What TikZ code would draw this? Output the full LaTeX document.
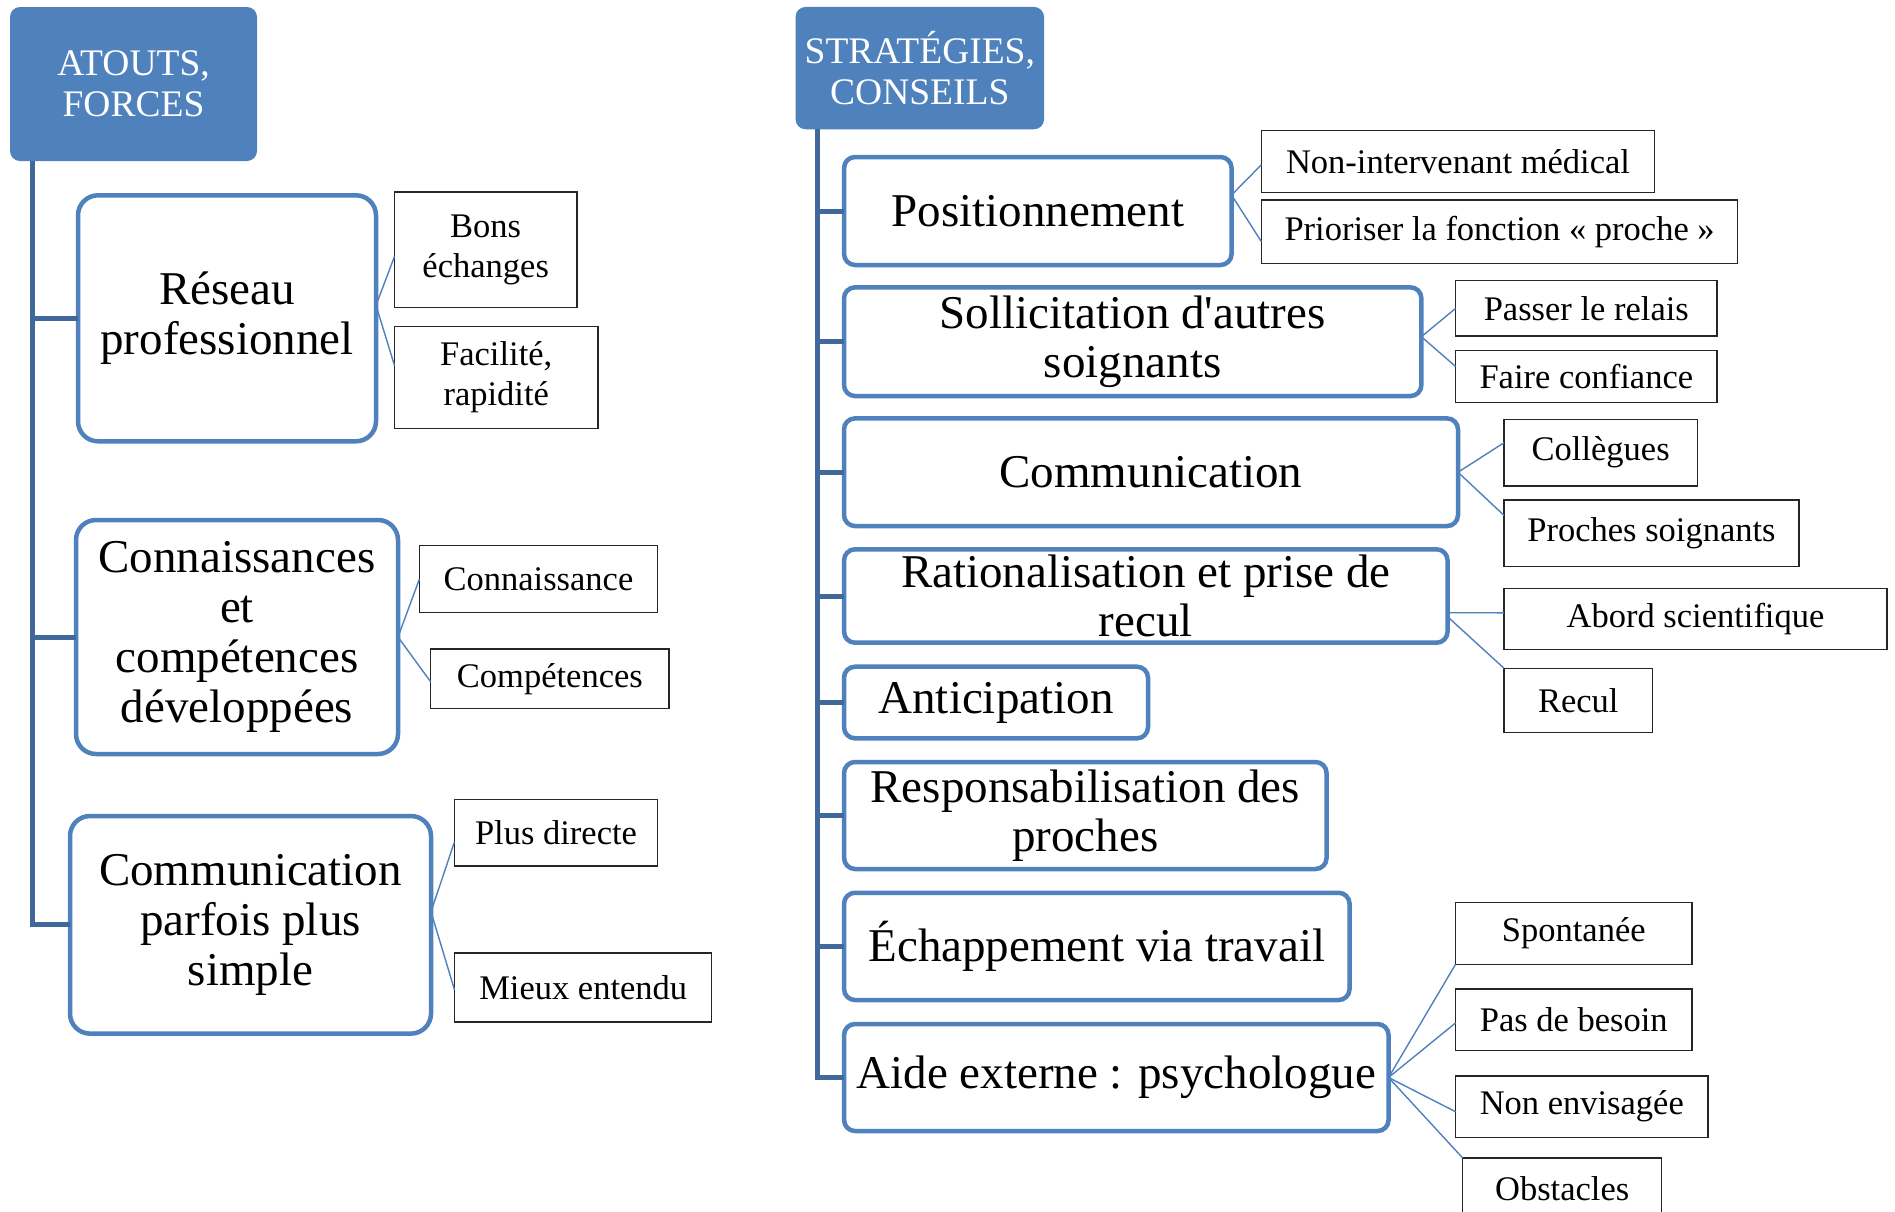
\documentclass[tikz,border=0pt]{standalone}
\usepackage{fontspec}
\setmainfont{Liberation Serif}[Ligatures=TeXOff]
\usetikzlibrary{calc}
\definecolor{hblue}{HTML}{4F81BD}
\definecolor{bblue}{HTML}{4F81BD}
\definecolor{tblue}{HTML}{41689B}
\begin{document}
\begin{tikzpicture}[x=1pt,y=-1pt,
  hdr/.style={fill=hblue, rounded corners=10pt, text=white, align=center, inner sep=0pt, outer sep=0pt, font=\fontsize{37.5}{41.5}\selectfont},
  bigL/.style={draw=bblue, line width=4.5pt, fill=white, rounded corners=20pt, align=center, inner sep=0pt, outer sep=0pt, font=\fontsize{47}{50}\selectfont},
  bigR/.style={bigL, rounded corners=11pt, font=\fontsize{47}{48.5}\selectfont},
  leaf/.style={draw=black!85, line width=1.2pt, fill=white, align=center, inner sep=0pt, outer sep=0pt, font=\fontsize{34.5}{40}\selectfont},
  conn/.style={draw=bblue, line width=1.4pt},
  trunk/.style={draw=tblue, line width=5pt},
]
\clip (0,0) rectangle (1895,1211);
\fill[white] (0,0) rectangle (1895,1211);

% ---------------- Left side ----------------
\node[hdr, minimum width=247pt, minimum height=154pt] (hA) at (133.5,84) {ATOUTS,\\FORCES};

\node[bigL, minimum width=298pt, minimum height=246pt] (r1) at (227,318.3) {Réseau\\professionnel};
\node[leaf, minimum width=182.5pt, minimum height=115.3pt] (r1a) at (485.7,249.6) {Bons\\échanges};
\node[leaf, minimum width=203.5pt, minimum height=101.8pt] (r1b) at (496.2,377.4) {Facilité,\\rapidité};

\node[bigL, minimum width=322pt, minimum height=234pt] (r2) at (237,637) {Connaissances\\et\\compétences\\développées};
\node[leaf, minimum width=238.3pt, minimum height=67pt] (r2a) at (538.5,579.2) {Connaissance};
\node[leaf, minimum width=238.3pt, minimum height=59.7pt] (r2b) at (549.9,678.9) {Compétences};

\node[bigL, minimum width=361pt, minimum height=217.6pt] (r3) at (250.5,924.8) {Communication\\parfois plus\\simple};
\node[leaf, minimum width=203pt, minimum height=66.6pt] (r3a) at (556,832.7) {Plus directe};
\node[leaf, minimum width=257.3pt, minimum height=69pt] (r3b) at (583.2,987.5) {Mieux entendu};

\coordinate (tL) at (32,161);
\draw[trunk] (tL) -- (tL |- r3.west) -- (r3.west);
\draw[trunk] (tL |- r1.west) -- (r1.west);
\draw[trunk] (tL |- r2.west) -- (r2.west);

\draw[conn] ([yshift=13pt]r1.east) -- ([yshift=-7pt]r1a.west);
\draw[conn] ([yshift=13pt]r1.east) -- ([yshift=12pt]r1b.west);
\draw[conn] (r2.east) -- (r2a.west);
\draw[conn] (r2.east) -- ([yshift=-3pt]r2b.west);
\draw[conn] ([yshift=13pt]r3.east) -- ([yshift=-9pt]r3a.west);
\draw[conn] ([yshift=13pt]r3.east) -- ([yshift=-2.5pt]r3b.west);

% ---------------- Right side ----------------
\node[hdr, minimum width=248.5pt, minimum height=122.3pt] (hS) at (919.8,68.1) {STRATÉGIES,\\CONSEILS};

\node[bigR, minimum width=387.5pt, minimum height=108pt] (p1) at (1037.8,211) {Positionnement};
\node[leaf, minimum width=393.2pt, minimum height=62pt] (p1a) at (1458,161.7) {Non-intervenant médical};
\node[leaf, minimum width=476.4pt, minimum height=63.3pt] (p1b) at (1499.6,231.7) {Prioriser la fonction «~proche~»};

\node[bigR, minimum width=577.4pt, minimum height=108.7pt] (p2) at (1132.7,341.7) {Sollicitation d'autres\\soignants};
\node[leaf, minimum width=261.5pt, minimum height=55.3pt] (p2a) at (1586.3,308.4) {Passer le relais};
\node[leaf, minimum width=261.5pt, minimum height=51.6pt] (p2b) at (1586.3,376.5) {Faire confiance};

\node[bigR, minimum width=614pt, minimum height=107.7pt] (p3) at (1151,472.2) {Communication};
\node[leaf, minimum width=193.3pt, minimum height=66.6pt] (p3a) at (1600.7,452.7) {Collègues};
\node[leaf, minimum width=295pt, minimum height=66.7pt] (p3b) at (1651.5,533.4) {Proches soignants};

\node[bigR, minimum width=603.5pt, minimum height=93.4pt] (p4) at (1145.8,596) {Rationalisation et prise de\\recul};
\node[leaf, minimum width=383pt, minimum height=61pt] (p4a) at (1695.5,618.8) {Abord scientifique};
\node[leaf, minimum width=148.5pt, minimum height=64pt] (p4b) at (1578.3,700.3) {Recul};

\node[bigR, minimum width=304pt, minimum height=71.6pt] (p5) at (996,702.5) {Anticipation};

\node[bigR, minimum width=482.5pt, minimum height=107pt] (p6) at (1085.3,815.5) {Responsabilisation des\\proches};

\node[bigR, minimum width=505.5pt, minimum height=107.3pt] (p7) at (1096.8,946.4) {Échappement via travail};

\node[bigR, minimum width=544.5pt, minimum height=107pt] (p8) at (1116.3,1077.5) {Aide externe : psychologue};
\node[leaf, minimum width=236.5pt, minimum height=61.6pt] (p8a) at (1573.8,933.5) {Spontanée};
\node[leaf, minimum width=236.5pt, minimum height=61.7pt] (p8b) at (1573.8,1019.9) {Pas de besoin};
\node[leaf, minimum width=252.5pt, minimum height=61.3pt] (p8c) at (1581.8,1106.7) {Non envisagée};
\node[leaf, minimum width=199pt, minimum height=62pt] (p8d) at (1562.2,1189) {Obstacles};

\coordinate (tR) at (817,129.3);
\draw[trunk] (tR) -- (tR |- p8.west) -- (p8.west);
\foreach \n in {p1,p2,p3,p4,p5,p6,p7}{
  \draw[trunk] (tR |- \n.west) -- (\n.west);
}

\draw[conn] ([yshift=16pt]p1.east) -- ([yshift=-3pt]p1a.west);
\draw[conn] ([yshift=16pt]p1.east) -- ([yshift=-10pt]p1b.west);
\draw[conn] ([yshift=5pt]p2.east) -- (p2a.west);
\draw[conn] ([yshift=5pt]p2.east) -- ([yshift=10pt]p2b.west);
\draw[conn] (p3.east) -- ([yshift=10pt]p3a.west);
\draw[conn] (p3.east) -- ([yshift=18pt]p3b.west);
\draw[conn] ([yshift=-16.7pt]p4.east) -- ([yshift=6pt]p4a.west);
\draw[conn] ([yshift=-20.7pt]p4.east) -- (p4b.north west);
\draw[conn] (p8.east) -- (p8a.south west);
\draw[conn] (p8.east) -- ([yshift=-3pt]p8b.west);
\draw[conn] (p8.east) -- ([yshift=-5pt]p8c.west);
\draw[conn] (p8.east) -- (p8d.north west);
\end{tikzpicture}
\end{document}
